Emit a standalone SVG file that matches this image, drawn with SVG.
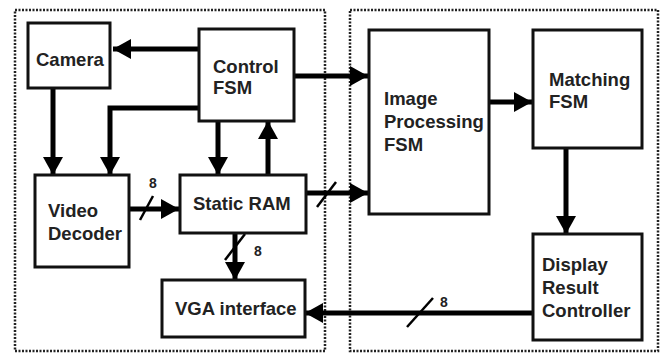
<svg xmlns="http://www.w3.org/2000/svg" width="664" height="353" viewBox="0 0 664 353">
<style>
.box{fill:#fff;stroke:#111;stroke-width:3}
.region{fill:none;stroke:#222;stroke-width:2.5;stroke-dasharray:2 1.5}
.t{font-family:"Liberation Sans",Arial,sans-serif;font-weight:bold;font-size:18.5px;fill:#222}
.s{font-family:"Liberation Sans",Arial,sans-serif;font-weight:bold;font-size:14px;fill:#222}
.w{fill:none;stroke:#000;stroke-width:5}
.sl{stroke:#000;stroke-width:2.5}
</style>
<defs>
<marker id="ah" markerUnits="userSpaceOnUse" markerWidth="18" markerHeight="20" viewBox="0 0 18 20" refX="18" refY="10" orient="auto">
<path d="M0,0 L18,10 L0,20 Z" fill="#000"/>
</marker>
</defs>
<rect class="region" x="15" y="10" width="310" height="341"/>
<rect class="region" x="350" y="10" width="308" height="341"/>
<g id="connectors">
<path class="w" d="M199,49 H113" marker-end="url(#ah)"/>
<path class="w" d="M53,88 V175" marker-end="url(#ah)"/>
<path class="w" d="M199,108 H110 V175" marker-end="url(#ah)"/>
<path class="w" d="M218,121 V175" marker-end="url(#ah)"/>
<path class="w" d="M268,175 V121" marker-end="url(#ah)"/>
<path class="w" d="M294,76 H368" marker-end="url(#ah)"/>
<path class="w" d="M129,209 H179" marker-end="url(#ah)"/>
<line class="sl" x1="140" y1="220" x2="153" y2="196"/>
<text class="s" x="149" y="188">8</text>
<path class="w" d="M306,193 H368" marker-end="url(#ah)"/>
<line class="sl" x1="317" y1="207" x2="336" y2="182"/>
<path class="w" d="M235,233 V280" marker-end="url(#ah)"/>
<line class="sl" x1="225" y1="260" x2="245" y2="234"/>
<text class="s" x="254" y="256">8</text>
<path class="w" d="M489,102 H532" marker-end="url(#ah)"/>
<path class="w" d="M566,148 V234" marker-end="url(#ah)"/>
<path class="w" d="M533,313 H305" marker-end="url(#ah)"/>
<line class="sl" x1="407" y1="327" x2="433" y2="298"/>
<text class="s" x="440" y="307">8</text>
</g>
<g id="camera"><rect class="box" x="28" y="23" width="82" height="65"/><text class="t" x="36" y="66">Camera</text></g>
<g id="control-fsm"><rect class="box" x="199" y="29" width="95" height="92"/><text class="t" x="213" y="73">Control</text><text class="t" x="213" y="94">FSM</text></g>
<g id="video-decoder"><rect class="box" x="35" y="175" width="94" height="92"/><text class="t" x="48" y="217">Video</text><text class="t" x="48" y="240">Decoder</text></g>
<g id="static-ram"><rect class="box" x="180" y="175" width="126" height="58"/><text class="t" x="193" y="210">Static RAM</text></g>
<g id="vga-interface"><rect class="box" x="162" y="280" width="143" height="57"/><text class="t" x="175" y="315">VGA interface</text></g>
<g id="image-processing-fsm"><rect class="box" x="369" y="30" width="120" height="184"/><text class="t" x="384" y="105">Image</text><text class="t" x="384" y="128">Processing</text><text class="t" x="384" y="151">FSM</text></g>
<g id="matching-fsm"><rect class="box" x="533" y="30" width="109" height="118"/><text class="t" x="549" y="86">Matching</text><text class="t" x="549" y="108">FSM</text></g>
<g id="display-result-controller"><rect class="box" x="533" y="234" width="109" height="106"/><text class="t" x="542" y="271">Display</text><text class="t" x="542" y="294">Result</text><text class="t" x="542" y="317">Controller</text></g>
</svg>
